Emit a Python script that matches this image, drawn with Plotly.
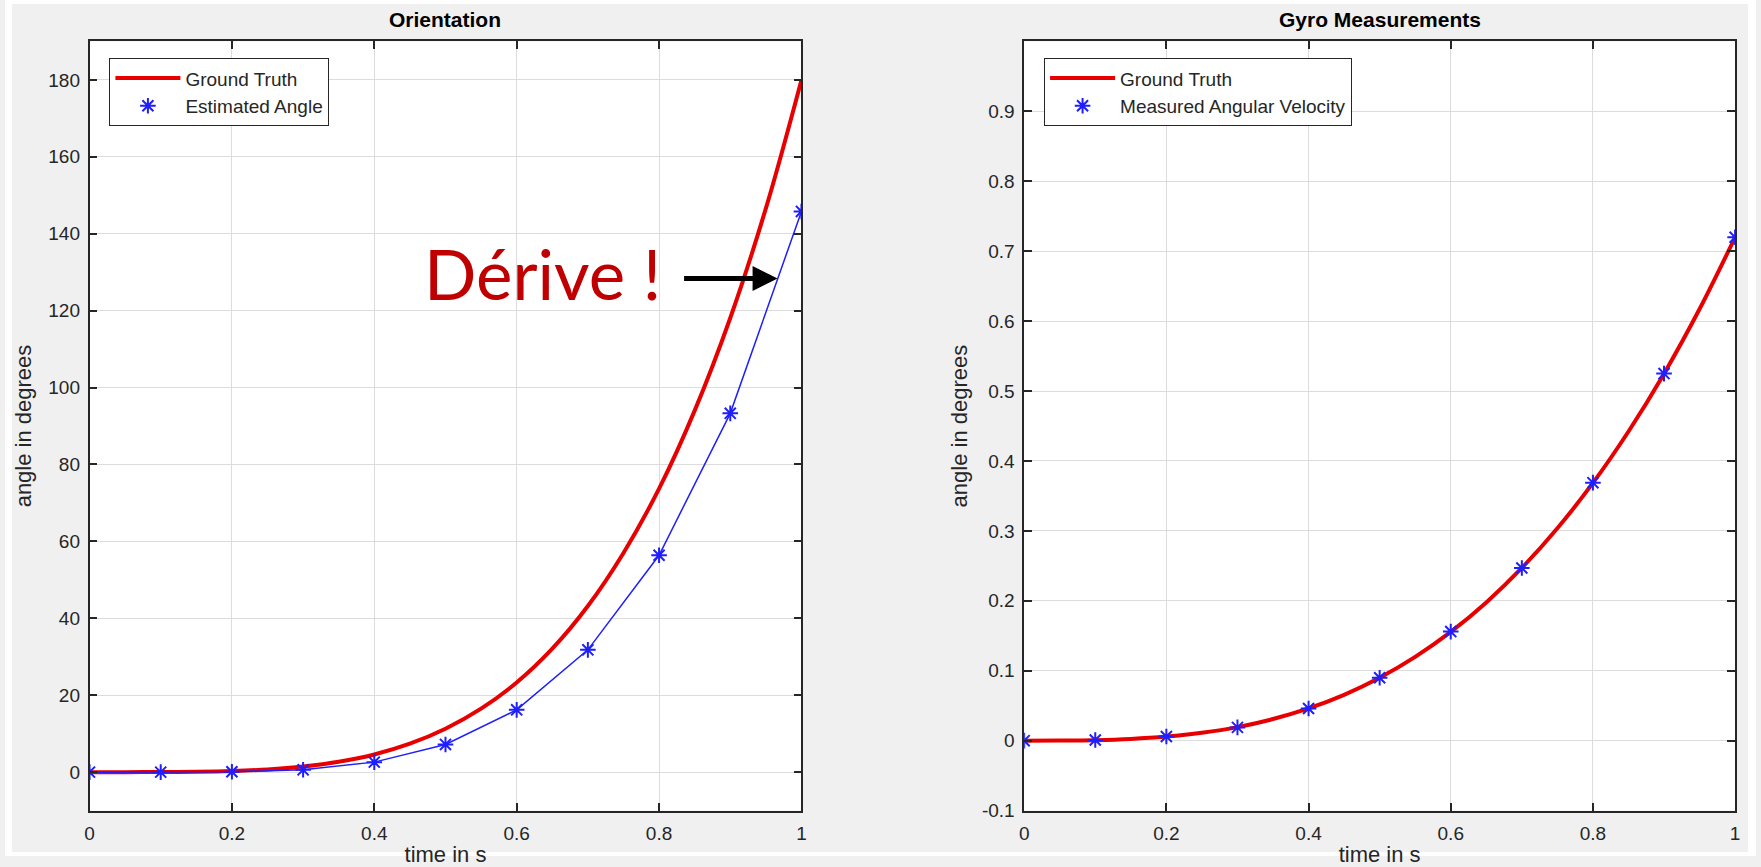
import plotly.graph_objects as go

# ---------------- data ----------------
t_dense = [0.0, 0.05, 0.1, 0.15, 0.2, 0.25, 0.3, 0.35, 0.4, 0.45, 0.5,
           0.55, 0.6, 0.65, 0.7, 0.75, 0.8, 0.85, 0.9, 0.95, 1.0]
t_samples = [0.0, 0.1, 0.2, 0.3, 0.4, 0.5, 0.6, 0.7, 0.8, 0.9, 1.0]

orient_truth = [0.0, 0.0, 0.02, 0.09, 0.29, 0.7, 1.46, 2.7, 4.6, 7.4, 11.3,
                16.5, 23.3, 32.1, 43.2, 57.0, 73.7, 94.0, 118.1, 146.6, 180.0]
orient_est = [0.0, 0.0, 0.1, 0.6, 2.6, 7.2, 16.2, 31.8, 56.4, 93.3, 145.8]

gyro_truth = [0.0, 0.0001, 0.0007, 0.0024, 0.0058, 0.0113, 0.0194, 0.0309, 0.0461, 0.0656, 0.09,
              0.1198, 0.1555, 0.1977, 0.247, 0.3038, 0.3686, 0.4422, 0.5249, 0.6173, 0.72]
gyro_meas = [0.0, 0.001, 0.006, 0.019, 0.046, 0.090, 0.156, 0.247, 0.369, 0.525, 0.720]

x_ticks = [0, 0.2, 0.4, 0.6, 0.8, 1]
x_ticklabels = ["0", "0.2", "0.4", "0.6", "0.8", "1"]
y1_ticks = [0, 20, 40, 60, 80, 100, 120, 140, 160, 180]
y2_ticks = [-0.1, 0, 0.1, 0.2, 0.3, 0.4, 0.5, 0.6, 0.7, 0.8, 0.9]
y2_ticklabels = ["-0.1", "0", "0.1", "0.2", "0.3", "0.4", "0.5", "0.6", "0.7", "0.8", "0.9"]

titles = ["Orientation", "Gyro Measurements"]
x_label = "time in s"
y_label = "angle in degrees"
annotation_text = "Dérive !"

# ---------------- style ----------------
W, H = 1761, 867
RED = "rgb(232,0,0)"
BLUE = "rgb(30,30,255)"
AXC = "#262626"
GRID = "#dcdcdc"
FONT = "Liberation Sans, Arial, sans-serif"

fig = go.Figure()

fig.add_trace(go.Scatter(x=t_dense, y=orient_truth, mode="lines", name="Ground Truth",
                         line=dict(color=RED, width=4, shape="spline"),
                         xaxis="x", yaxis="y", legend="legend"))
fig.add_trace(go.Scatter(x=t_samples, y=orient_est, mode="lines", showlegend=False,
                         line=dict(color=BLUE, width=1.5),
                         xaxis="x", yaxis="y"))
fig.add_trace(go.Scatter(x=t_samples, y=orient_est, mode="markers", name="Estimated Angle",
                         marker=dict(symbol="asterisk-open", size=13, color=BLUE,
                                     line=dict(color=BLUE, width=2)),
                         xaxis="x", yaxis="y", legend="legend"))

fig.add_trace(go.Scatter(x=t_dense, y=gyro_truth, mode="lines", name="Ground Truth",
                         line=dict(color=RED, width=4, shape="spline"),
                         xaxis="x2", yaxis="y2", legend="legend2"))
fig.add_trace(go.Scatter(x=t_samples, y=gyro_meas, mode="markers", name="Measured Angular Velocity",
                         marker=dict(symbol="asterisk-open", size=13, color=BLUE,
                                     line=dict(color=BLUE, width=2)),
                         xaxis="x2", yaxis="y2", legend="legend2"))

xdom1 = [85 / W, 801 / W]
xdom2 = [1025 / W, 1740 / W]
ydom = [1 - 821 / H, 1 - 42 / H]

axis_common = dict(showline=True, linecolor=AXC, linewidth=1.5, mirror="ticks",
                   ticks="inside", ticklen=8, tickwidth=1.5, tickcolor=AXC,
                   showgrid=True, gridcolor=GRID, gridwidth=1, zeroline=False,
                   tickfont=dict(family=FONT, size=19, color=AXC))

xa = dict(axis_common, range=[0, 1], tickvals=x_ticks, ticktext=x_ticklabels,
          ticklabelstandoff=5,
          title=dict(text=x_label, font=dict(family=FONT, size=22, color=AXC), standoff=3))

legend_common = dict(xanchor="left", yanchor="top", bgcolor="white", bordercolor=AXC,
                     borderwidth=1, tracegroupgap=0, itemwidth=65,
                     font=dict(family=FONT, size=19, color=AXC))

fig.update_layout(
    width=W, height=H,
    margin=dict(l=0, r=0, t=0, b=0),
    paper_bgcolor="#f0f0f0",
    plot_bgcolor="white",
    showlegend=True,
    xaxis=dict(xa, domain=xdom1, anchor="y"),
    yaxis=dict(axis_common, domain=ydom, anchor="x", range=[-10, 190], tickvals=y1_ticks,
               ticklabelstandoff=4,
               title=dict(text=y_label, font=dict(family=FONT, size=22, color=AXC), standoff=11)),
    xaxis2=dict(xa, domain=xdom2, anchor="y2"),
    yaxis2=dict(axis_common, domain=ydom, anchor="x2", range=[-0.1, 1.0], tickvals=y2_ticks,
                ticktext=y2_ticklabels, ticklabelstandoff=4,
                title=dict(text=y_label, font=dict(family=FONT, size=22, color=AXC), standoff=8)),
    legend=dict(legend_common, x=105 / W, y=1 - 59 / H),
    legend2=dict(legend_common, x=1045 / W, y=1 - 59 / H),
)

annotations = [
    dict(text="<b>%s</b>" % titles[0], xref="paper", yref="paper",
         x=(xdom1[0] + xdom1[1]) / 2, y=1 - 20 / H, xanchor="center", yanchor="middle",
         showarrow=False, font=dict(family=FONT, size=21, color="black")),
    dict(text="<b>%s</b>" % titles[1], xref="paper", yref="paper",
         x=(xdom2[0] + xdom2[1]) / 2, y=1 - 20 / H, xanchor="center", yanchor="middle",
         showarrow=False, font=dict(family=FONT, size=21, color="black")),
    dict(text=annotation_text, xref="paper", yref="paper",
         x=419 / W, y=1 - 277 / H, xanchor="left", yanchor="middle",
         showarrow=False, font=dict(family="Lato, Open Sans, sans-serif", size=69, color="#c00000")),
    dict(text="", xref="paper", yref="paper", x=777 / W, y=1 - 282 / H,
         showarrow=True, ax=-95, ay=0, axref="pixel", ayref="pixel",
         arrowhead=2, arrowsize=1, arrowwidth=5, arrowcolor="black"),
]
fig.update_layout(annotations=annotations)

# thin white frame around the grey figure area
edge = dict(type="rect", xref="paper", yref="paper", fillcolor="white", line=dict(width=0), layer="above")
fig.update_layout(shapes=[
    dict(edge, x0=0, x1=7 / W, y0=0, y1=1),
    dict(edge, x0=1753 / W, x1=1, y0=0, y1=1),
    dict(edge, x0=0, x1=1, y0=1 - 4 / H, y1=1),
    dict(edge, x0=0, x1=1, y0=0, y1=1 - 863 / H),
])

fig.write_html("out.html")
